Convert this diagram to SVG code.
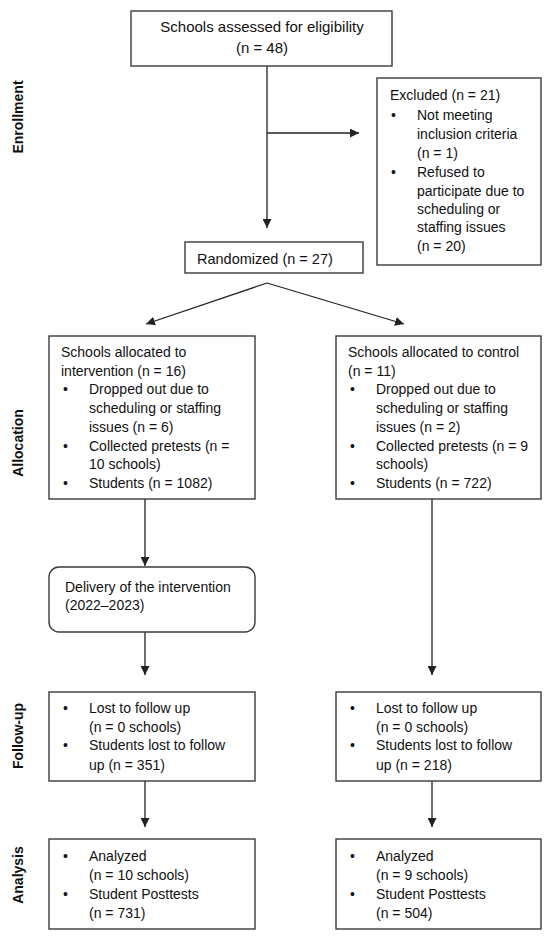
<svg xmlns="http://www.w3.org/2000/svg" width="550" height="940" viewBox="0 0 550 940">
<defs>
<marker id="ah" markerUnits="userSpaceOnUse" markerWidth="10" markerHeight="9" refX="9" refY="4.5" orient="auto">
<path d="M0,0 L9,4.5 L0,9 z" fill="#222"/>
</marker>
<style>
.box{fill:#fff;stroke:#3a3a3a;stroke-width:1.4}
.t{font-family:"Liberation Sans",Arial,sans-serif;font-size:14px;fill:#111}
.big{font-size:15px}
.lab{font-family:"Liberation Sans",Arial,sans-serif;font-size:14px;font-weight:bold;fill:#111}
.c{fill:none;stroke:#222;stroke-width:1.3;marker-end:url(#ah)}
</style>
</defs>
<rect width="550" height="940" fill="#fff"/>

<g id="labels">
<text class="lab" transform="translate(23,117) rotate(-90)" text-anchor="middle">Enrollment</text>
<text class="lab" transform="translate(23,443) rotate(-90)" text-anchor="middle">Allocation</text>
<text class="lab" transform="translate(23,736) rotate(-90)" text-anchor="middle">Follow-up</text>
<text class="lab" transform="translate(23,875) rotate(-90)" text-anchor="middle">Analysis</text>
</g>

<g id="connectors">
<path class="c" d="M267,65 V228"/>
<path class="c" d="M267,133 H359"/>
<path class="c" d="M267,283 L146,324"/>
<path class="c" d="M267,283 L404,324"/>
<path class="c" d="M145,499 V566"/>
<path class="c" d="M145,632 V675"/>
<path class="c" d="M432,499 V675"/>
<path class="c" d="M145,781 V827"/>
<path class="c" d="M432,781 V827"/>
</g>

<g id="assessed">
<rect class="box" x="131" y="11" width="261" height="55"/>
<text class="t big" x="262" y="32" text-anchor="middle">Schools assessed for eligibility</text>
<text class="t big" x="262" y="53" text-anchor="middle">(n = 48)</text>
</g>

<g id="excluded">
<rect class="box" x="377" y="78" width="164" height="187"/>
<text class="t" x="390" y="100">Excluded (n = 21)</text>
<text class="t" x="391" y="120">•</text>
<text class="t" x="417" y="120">Not meeting</text>
<text class="t" x="417" y="139">inclusion criteria</text>
<text class="t" x="417" y="158">(n = 1)</text>
<text class="t" x="391" y="177">•</text>
<text class="t" x="417" y="177">Refused to</text>
<text class="t" x="417" y="196">participate due to</text>
<text class="t" x="417" y="214">scheduling or</text>
<text class="t" x="417" y="232">staffing issues</text>
<text class="t" x="417" y="251">(n = 20)</text>
</g>

<g id="randomized">
<rect class="box" x="185" y="242" width="178" height="31"/>
<text class="t" x="197" y="264" style="font-size:14.5px">Randomized (n = 27)</text>
</g>

<g id="alloc-intervention">
<rect class="box" x="49" y="336" width="206" height="163"/>
<text class="t" x="61" y="357">Schools allocated to</text>
<text class="t" x="61" y="376">intervention (n = 16)</text>
<text class="t" x="63" y="394">•</text>
<text class="t" x="89" y="394">Dropped out due to</text>
<text class="t" x="89" y="413">scheduling or staffing</text>
<text class="t" x="89" y="432">issues (n = 6)</text>
<text class="t" x="63" y="451">•</text>
<text class="t" x="89" y="451">Collected pretests (n =</text>
<text class="t" x="89" y="469">10 schools)</text>
<text class="t" x="63" y="488">•</text>
<text class="t" x="89" y="488">Students (n = 1082)</text>
</g>

<g id="alloc-control">
<rect class="box" x="336" y="336" width="205" height="163"/>
<text class="t" x="348" y="357">Schools allocated to control</text>
<text class="t" x="348" y="376">(n = 11)</text>
<text class="t" x="350" y="394">•</text>
<text class="t" x="376" y="394">Dropped out due to</text>
<text class="t" x="376" y="413">scheduling or staffing</text>
<text class="t" x="376" y="432">issues (n = 2)</text>
<text class="t" x="350" y="451">•</text>
<text class="t" x="376" y="451">Collected pretests (n = 9</text>
<text class="t" x="376" y="469">schools)</text>
<text class="t" x="350" y="488">•</text>
<text class="t" x="376" y="488">Students (n = 722)</text>
</g>

<g id="delivery">
<rect class="box" x="49" y="567" width="206" height="65" rx="10" ry="10"/>
<text class="t" x="65" y="592">Delivery of the intervention</text>
<text class="t" x="65" y="610">(2022–2023)</text>
</g>

<g id="followup-intervention">
<rect class="box" x="49" y="692" width="206" height="89"/>
<text class="t" x="63" y="713">•</text>
<text class="t" x="89" y="713">Lost to follow up</text>
<text class="t" x="89" y="732">(n = 0 schools)</text>
<text class="t" x="63" y="750">•</text>
<text class="t" x="89" y="750">Students lost to follow</text>
<text class="t" x="89" y="770">up (n = 351)</text>
</g>

<g id="followup-control">
<rect class="box" x="336" y="692" width="205" height="89"/>
<text class="t" x="350" y="713">•</text>
<text class="t" x="376" y="713">Lost to follow up</text>
<text class="t" x="376" y="732">(n = 0 schools)</text>
<text class="t" x="350" y="750">•</text>
<text class="t" x="376" y="750">Students lost to follow</text>
<text class="t" x="376" y="770">up (n = 218)</text>
</g>

<g id="analysis-intervention">
<rect class="box" x="49" y="839" width="206" height="90"/>
<text class="t" x="63" y="861">•</text>
<text class="t" x="89" y="861">Analyzed</text>
<text class="t" x="89" y="880">(n = 10 schools)</text>
<text class="t" x="63" y="899">•</text>
<text class="t" x="89" y="899">Student Posttests</text>
<text class="t" x="89" y="918">(n = 731)</text>
</g>

<g id="analysis-control">
<rect class="box" x="336" y="839" width="205" height="90"/>
<text class="t" x="350" y="861">•</text>
<text class="t" x="376" y="861">Analyzed</text>
<text class="t" x="376" y="880">(n = 9 schools)</text>
<text class="t" x="350" y="899">•</text>
<text class="t" x="376" y="899">Student Posttests</text>
<text class="t" x="376" y="918">(n = 504)</text>
</g>
</svg>
